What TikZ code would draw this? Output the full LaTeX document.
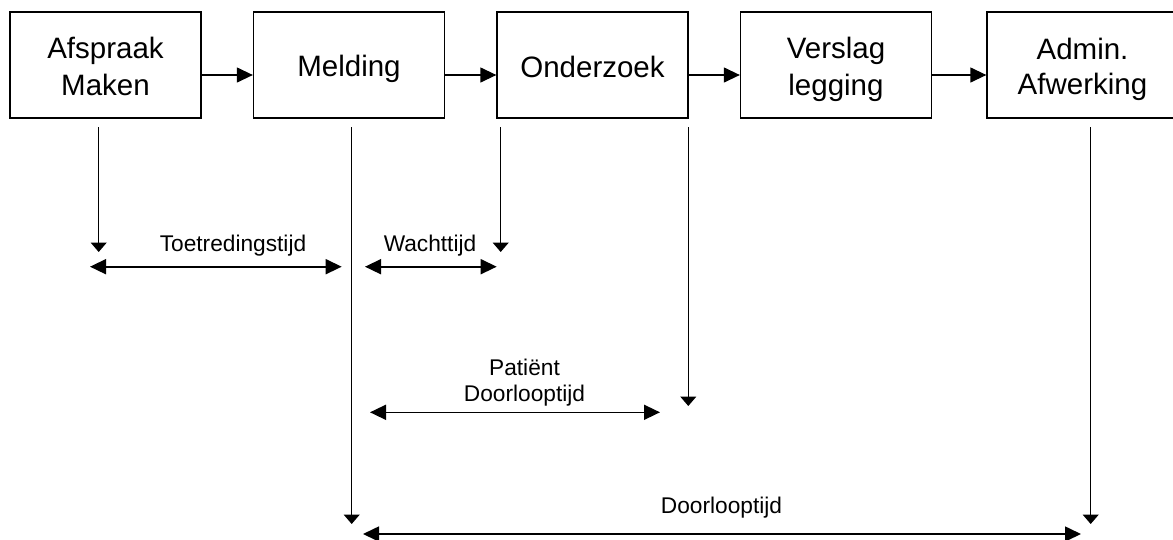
\documentclass[tikz,border=0pt]{standalone}
\usepackage{fontspec}
\setmainfont{Liberation Sans}
\usetikzlibrary{arrows.meta}
% equal line height for every line of stage text
\newcommand\stagestrut{\rule[-5.5pt]{0pt}{35pt}}
\begin{document}
\begin{tikzpicture}[x=1pt,y=-1pt,
  stage/.style={draw,line width=1.3pt,minimum width=191pt,minimum height=106pt,
    inner sep=0pt,align=center,font=\fontsize{29.5}{35}\selectfont},
  flow/.style={line width=1.3pt,-{Triangle[length=16pt,width=15pt]}},
  drop/.style={line width=1.3pt,-{Triangle[length=9.5pt,width=16pt]}},
  span/.style={line width=1.6pt,{Triangle[length=16pt,width=15pt]}-{Triangle[length=16pt,width=15pt]}},
  lbl/.style={anchor=base,align=center,inner sep=0pt,font=\fontsize{22.7}{26.7}\selectfont}]
\clip (0,0) rectangle (1173,539);
\fill[white] (0,0) rectangle (1173,539);

% process stages
\node[stage] (afspraak)  at (105.5,65) {Afspraak\stagestrut\\Maken\stagestrut};
\node[stage] (melding)   at (349,65)   {Melding\stagestrut};
\node[stage] (onderzoek) at (592.5,65) {Onderzoek\stagestrut};
\node[stage] (verslag)   at (836,65)   {Verslag\stagestrut\\legging\stagestrut};
\node[stage] (admin)     at (1082.5,65) {Admin.\stagestrut\\Afwerking\stagestrut};

% flow between stages
\coordinate (fy) at (0,75);
\draw[flow] (afspraak.east |- fy)  -- (melding.west |- fy);
\draw[flow] (melding.east |- fy)   -- (onderzoek.west |- fy);
\draw[flow] (onderzoek.east |- fy) -- (verslag.west |- fy);
\draw[flow] (verslag.east |- fy)   -- (admin.west |- fy);

% time markers
\coordinate (a0) at (98.7,127);   \coordinate (a1) at (98.7,252);
\coordinate (m0) at (351.7,127);  \coordinate (m1) at (351.7,524);
\coordinate (o0) at (500.7,127);  \coordinate (o1) at (500.7,252);
\coordinate (e0) at (688.3,127);  \coordinate (e1) at (688.3,406);
\coordinate (d0) at (1090.7,127); \coordinate (d1) at (1090.7,524);
\draw[drop] (a0) -- (a1);
\draw[drop] (m0) -- (m1);
\draw[drop] (o0) -- (o1);
\draw[drop] (e0) -- (e1);
\draw[drop] (d0) -- (d1);

% intervals
\coordinate (t0) at (90,266.7);   \coordinate (t1) at (341.7,266.7);
\coordinate (w0) at (365,266.7);  \coordinate (w1) at (496.7,266.7);
\coordinate (p0) at (370,412.3);  \coordinate (p1) at (660,412.3);
\coordinate (l0) at (363,534);    \coordinate (l1) at (1081,534);
\draw[span] (t0) -- (t1);
\draw[span] (w0) -- (w1);
\draw[span] (p0) -- (p1);
\draw[span] (l0) -- (l1);

\node[lbl] (tl) at (233,251.7) {Toetredingstijd};
\node[lbl] (wl) at (430,251.7) {Wachttijd};
\node[lbl] (pl) at (524.5,401.7) {Patiënt\\Doorlooptijd};
\node[lbl] (ll) at (721.5,513) {Doorlooptijd};
\end{tikzpicture}
\end{document}
